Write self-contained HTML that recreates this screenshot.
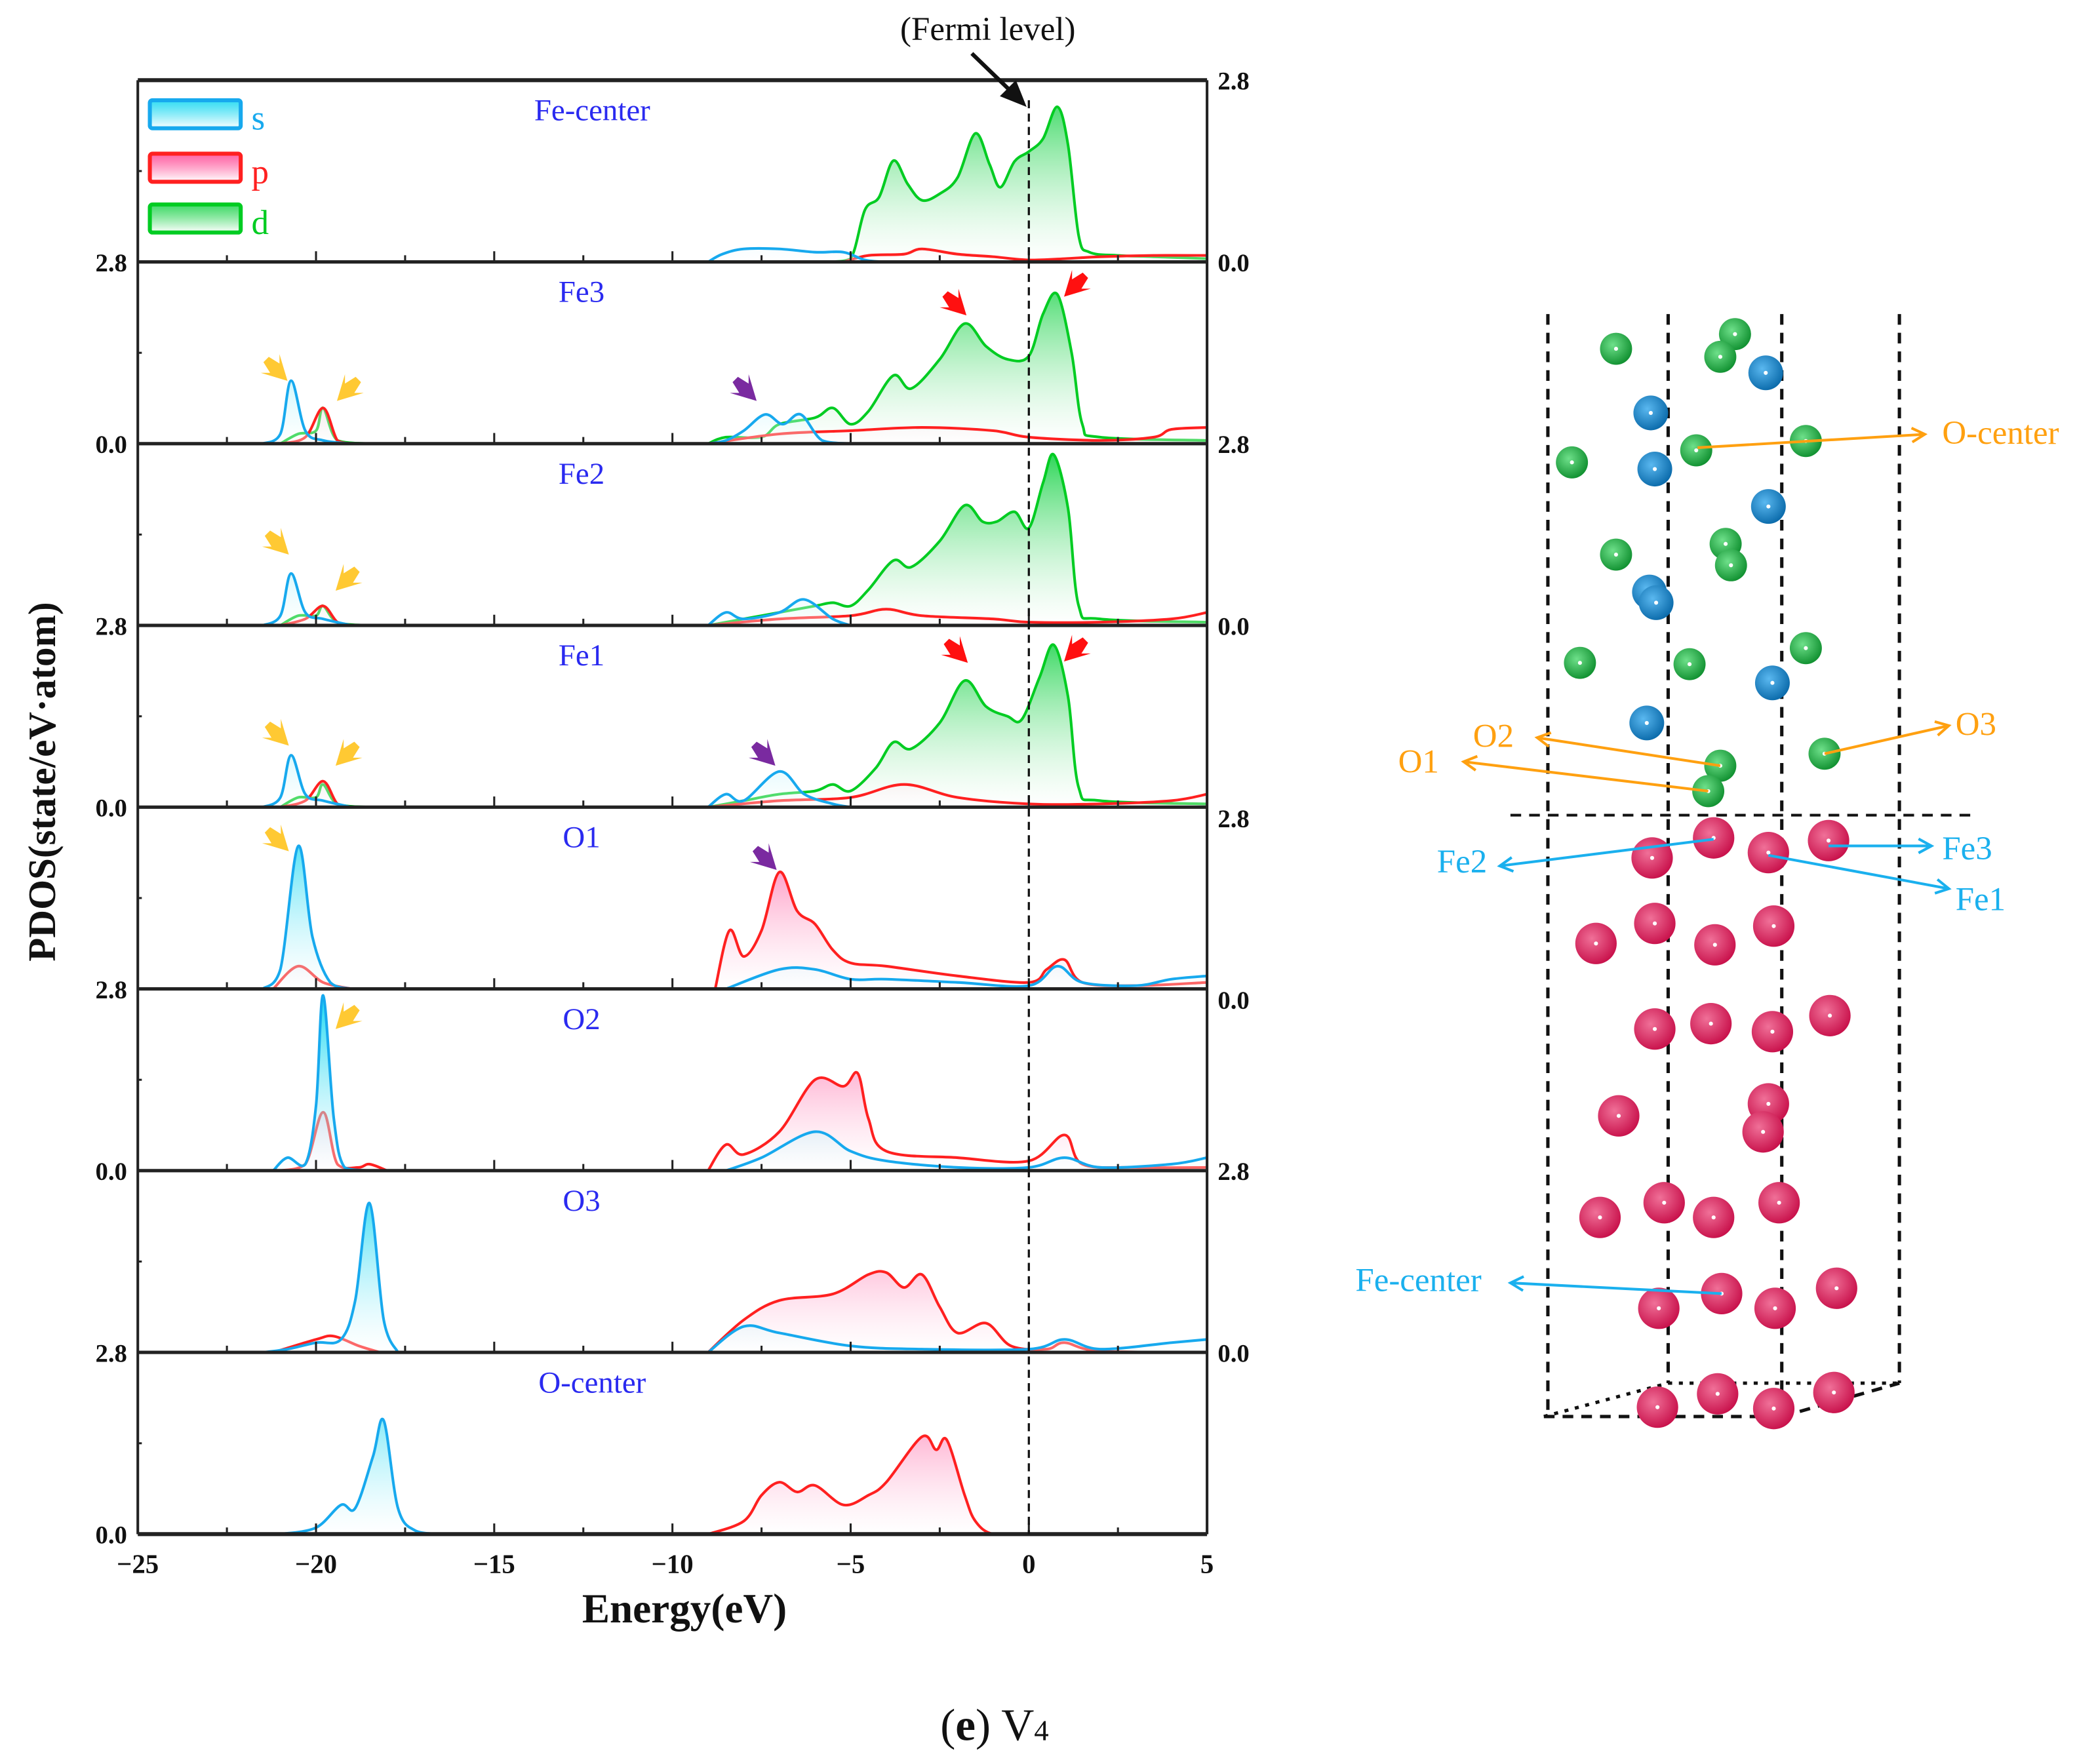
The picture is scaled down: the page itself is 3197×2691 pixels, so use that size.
<!DOCTYPE html>
<html><head><meta charset="utf-8">
<style>
html,body{margin:0;padding:0;background:#fff;}
svg{display:block;}
text{font-family:"Liberation Serif",serif;}
</style></head>
<body>
<svg id="fig" width="3197" height="2691" viewBox="0 0 1568 1320" xmlns="http://www.w3.org/2000/svg">
<defs id="defs"></defs>
<g id="chart"></g>
<g id="struct"></g>
</svg>
<script>
// ---- chart data: [energy eV, PDOS] pairs per panel / orbital ----
const xTicks = [-25,-20,-15,-10,-5,0,5];
const panelNames = ["Fe-center","Fe3","Fe2","Fe1","O1","O2","O3","O-center"];
const feCenter_s = [[-9,0],[-8.6,0.12],[-8,0.2],[-7,0.2],[-6,0.15],[-5.2,0.15],[-4.6,0.03],[-4,0]];
const feCenter_p = [[-5.2,0],[-4.5,0.1],[-3.5,0.12],[-3,0.2],[-2,0.12],[-1,0.08],[0,0.03],[1,0.05],[2,0.08],[3.5,0.1],[5,0.1]];
const feCenter_d = [[-5.6,0],[-5,0.05],[-4.6,0.8],[-4.2,1.0],[-3.8,1.56],[-3.4,1.2],[-3,0.95],[-2.5,1.05],[-2,1.3],[-1.5,1.98],[-1.1,1.5],[-0.8,1.15],[-0.4,1.55],[0,1.7],[0.4,1.9],[0.8,2.39],[1.1,1.8],[1.4,0.4],[1.7,0.15],[2.5,0.1],[3.5,0.08],[5,0.05]];
const fe3_s = [[-21.5,0],[-21,0.15],[-20.7,0.97],[-20.3,0.2],[-19.8,0.05],[-19,0],[-9,0],[-8.5,0.05],[-8,0.2],[-7.4,0.45],[-6.9,0.3],[-6.4,0.45],[-5.8,0.05],[-5,0]];
const fe3_p = [[-21,0],[-20.3,0.1],[-19.8,0.55],[-19.4,0.05],[-19,0],[-9,0],[-7,0.15],[-5,0.2],[-3,0.25],[-1,0.2],[0,0.1],[2,0.05],[3.5,0.1],[4,0.22],[5,0.25]];
const fe3_d = [[-21,0],[-20.5,0.15],[-20,0.2],[-19.8,0.55],[-19.4,0.05],[-18.5,0],[-9,0],[-8.5,0.1],[-7.5,0.1],[-7,0.3],[-6,0.4],[-5.5,0.55],[-5,0.3],[-4.5,0.5],[-3.8,1.05],[-3.3,0.85],[-2.5,1.3],[-1.8,1.85],[-1.2,1.5],[-0.6,1.3],[0,1.35],[0.4,2.0],[0.8,2.3],[1.2,1.4],[1.5,0.3],[2,0.1],[5,0.05]];
const fe2_s = [[-21.5,0],[-21,0.15],[-20.7,0.8],[-20.3,0.2],[-19.8,0.1],[-19,0],[-9,0],[-8.5,0.2],[-8,0.1],[-7,0.2],[-6.3,0.4],[-5.5,0.1],[-5,0]];
const fe2_p = [[-21,0],[-20.3,0.1],[-19.8,0.3],[-19.4,0.05],[-19,0],[-9,0],[-7,0.1],[-5,0.15],[-4,0.25],[-3,0.15],[-1,0.1],[0,0.05],[2,0.05],[4,0.1],[5,0.2]];
const fe2_d = [[-21,0],[-20.5,0.15],[-20,0.15],[-19.8,0.3],[-19.4,0.05],[-18.5,0],[-9,0],[-8,0.1],[-7,0.2],[-6,0.3],[-5.5,0.35],[-5,0.3],[-4.5,0.55],[-3.8,1.0],[-3.3,0.9],[-2.5,1.3],[-1.8,1.85],[-1.3,1.6],[-0.9,1.6],[-0.4,1.75],[0,1.5],[0.4,2.2],[0.7,2.63],[1.1,1.8],[1.4,0.3],[2,0.1],[5,0.05]];
const fe1_s = [[-21.5,0],[-21,0.15],[-20.7,0.8],[-20.3,0.2],[-19.8,0.1],[-19,0],[-9,0],[-8.5,0.2],[-8,0.1],[-7,0.55],[-6.3,0.2],[-5.5,0.05],[-5,0]];
const fe1_p = [[-21,0],[-20.3,0.1],[-19.8,0.4],[-19.4,0.05],[-19,0],[-9,0],[-7,0.1],[-5,0.15],[-3.5,0.35],[-2,0.15],[0,0.05],[2,0.05],[4,0.1],[5,0.2]];
const fe1_d = [[-21,0],[-20.5,0.15],[-20,0.15],[-19.8,0.35],[-19.4,0.05],[-18.5,0],[-9,0],[-8,0.1],[-7,0.2],[-6,0.25],[-5.5,0.35],[-5,0.25],[-4.3,0.6],[-3.8,1.0],[-3.3,0.9],[-2.5,1.3],[-1.8,1.95],[-1.2,1.55],[-0.6,1.4],[-0.2,1.35],[0.3,2.0],[0.7,2.5],[1.1,1.7],[1.4,0.3],[2,0.1],[5,0.05]];
const o1_s = [[-21.5,0],[-21,0.3],[-20.5,2.2],[-20.1,0.8],[-19.6,0.1],[-19,0],[-8.5,0],[-7,0.3],[-6,0.3],[-5,0.15],[-4,0.15],[-2,0.1],[0,0.05],[0.8,0.35],[1.5,0.1],[3,0.05],[4,0.15],[5,0.2]];
const o1_p = [[-21.2,0],[-20.5,0.35],[-19.8,0.1],[-19,0],[-8.8,0],[-8.4,0.9],[-8,0.5],[-7.5,0.9],[-7,1.8],[-6.5,1.2],[-6,1.0],[-5.5,0.6],[-5,0.4],[-4,0.35],[-2,0.2],[0,0.1],[0.5,0.3],[1,0.45],[1.5,0.1],[3,0.05],[5,0.1]];
const o2_s = [[-21.2,0],[-20.8,0.2],[-20.3,0.1],[-20,1.0],[-19.8,2.7],[-19.5,0.8],[-19.2,0.05],[-18.5,0],[-8.5,0],[-7.5,0.2],[-6,0.6],[-5,0.3],[-4,0.15],[-2,0.05],[0,0.05],[1,0.2],[2,0.05],[4,0.1],[5,0.2]];
const o2_p = [[-21,0],[-20.3,0.1],[-19.8,0.9],[-19.4,0.1],[-18.8,0.05],[-18.5,0.1],[-18,0],[-9,0],[-8.5,0.4],[-8,0.25],[-7,0.6],[-6,1.4],[-5.2,1.3],[-4.8,1.5],[-4.5,0.8],[-4,0.3],[-2,0.2],[0,0.15],[1,0.55],[1.5,0.1],[3,0.05],[5,0.05]];
const o3_s = [[-21.5,0],[-20.8,0.05],[-20,0.15],[-19.3,0.2],[-18.9,0.8],[-18.5,2.3],[-18.1,0.5],[-17.7,0],[-9,0],[-8,0.4],[-7,0.3],[-5,0.1],[-3,0.05],[0,0.05],[1,0.2],[2,0.05],[4,0.15],[5,0.2]];
const o3_p = [[-21.2,0],[-20,0.2],[-19.5,0.25],[-18.8,0.1],[-18.2,0],[-9,0],[-8,0.5],[-7,0.8],[-5.5,0.9],[-4.5,1.2],[-4,1.23],[-3.5,1.0],[-3,1.2],[-2.5,0.7],[-2,0.3],[-1.2,0.45],[-0.5,0.1],[0.5,0.05],[1,0.15],[2,0.02],[5,0]];
const oc_s = [[-21,0],[-20,0.1],[-19.3,0.45],[-18.9,0.4],[-18.4,1.2],[-18.1,1.75],[-17.7,0.4],[-17.2,0.05],[-16.5,0]];
const oc_p = [[-9,0],[-8,0.2],[-7.5,0.6],[-7,0.8],[-6.5,0.65],[-6,0.75],[-5.2,0.45],[-4.5,0.6],[-4,0.8],[-3,1.5],[-2.6,1.3],[-2.3,1.45],[-1.8,0.6],[-1.5,0.2],[-1,0],[0,0],[5,0]];
const panelSeries = [
  [["d",feCenter_d],["p",feCenter_p],["s",feCenter_s]],
  [["d",fe3_d],["p",fe3_p],["s",fe3_s]],
  [["d",fe2_d],["p",fe2_p],["s",fe2_s]],
  [["d",fe1_d],["p",fe1_p],["s",fe1_s]],
  [["p",o1_p],["s",o1_s]],
  [["p",o2_p],["s",o2_s]],
  [["p",o3_p],["s",o3_s]],
  [["p",oc_p],["s",oc_s]]
];

const NS="http://www.w3.org/2000/svg";
const X0=103,X1=903,Y0=60,PH=136,NP=8,YMAX=2.8;
const xs=e=>X0+(e+25)/30*(X1-X0);
const ys=(i,v)=>Y0+PH*(i+1)-v/YMAX*PH;
const lineCol={s:"#17a9ee",p:"#ff2020",d:"#00cc22"};
const fillCol={s:"#00d4f0",p:"#ff3a8c",d:"#10d040"};
const chart=document.getElementById('chart');
const defs=document.getElementById('defs');
function mk(tag,attrs,parent){const el=document.createElementNS(NS,tag);for(const k in attrs)el.setAttribute(k,attrs[k]);(parent||chart).appendChild(el);return el;}
function smooth(pts,base){let d="M"+pts[0][0]+","+pts[0][1];for(let i=0;i<pts.length-1;i++){const p0=pts[Math.max(0,i-1)],p1=pts[i],p2=pts[i+1],p3=pts[Math.min(pts.length-1,i+2)];const c1x=p1[0]+(p2[0]-p0[0])/6,c2x=p2[0]-(p3[0]-p1[0])/6;const c1y=Math.min(base,p1[1]+(p2[1]-p0[1])/6),c2y=Math.min(base,p2[1]-(p3[1]-p1[1])/6);d+=" C"+c1x+","+c1y+" "+c2x+","+c2y+" "+p2[0]+","+p2[1];}return d;}
function segments(arr){const segs=[[arr[0]]];for(let k=1;k<arr.length;k++){if(arr[k][0]-arr[k-1][0]>2.5&&arr[k][1]===0&&arr[k-1][1]===0){segs.push([arr[k]]);}else segs[segs.length-1].push(arr[k]);}return segs.filter(s=>s.length>1);}

for(let i=0;i<NP;i++){for(const o of ["s","p","d"]){const g=mk('linearGradient',{id:'g'+o+i,gradientUnits:'userSpaceOnUse',x1:0,y1:Y0+PH*i+10,x2:0,y2:Y0+PH*(i+1)},defs);mk('stop',{offset:0,'stop-color':fillCol[o],'stop-opacity':0.85},g);mk('stop',{offset:1,'stop-color':'#fff','stop-opacity':0.3},g);}}

for(let i=0;i<NP;i++){
  const base=Y0+PH*(i+1);
  const gp=mk('g',{});
  
  
  for(const [o,arr] of panelSeries[i]){
    for(const seg of segments(arr)){
      const pts=seg.map(a=>[xs(a[0]),ys(i,a[1])]);
      const dl=smooth(pts,base);
      const f=mk('path',{d:dl+" L"+pts[pts.length-1][0]+","+base+" L"+pts[0][0]+","+base+" Z",fill:'url(#g'+o+i+')',stroke:'none'},gp);
      
      
      const l=mk('path',{d:dl,fill:'none',stroke:lineCol[o],'stroke-width':2},gp);
      
      
    }
  }
  const t=mk('text',{x:panelNames[i]==="Fe-center"||panelNames[i]==="O-center"?443:435,y:Y0+PH*i+30,'font-size':23,fill:'#2a2af0','text-anchor':'middle'});
  t.textContent=panelNames[i];
  
  
}
mk('line',{x1:X0,y1:Y0,x2:X0,y2:Y0+PH*NP,stroke:'#222','stroke-width':2});
mk('line',{x1:X1,y1:Y0,x2:X1,y2:Y0+PH*NP,stroke:'#222','stroke-width':2});
for(let i=0;i<=NP;i++){const y=Y0+PH*i;const ln=mk('line',{x1:X0,y1:y,x2:X1,y2:y,stroke:'#222','stroke-width':i==0||i==NP?3:2.5});
  
  
  if(i>0){for(let e=-25;e<=5;e+=2.5){const maj=e%5===0;mk('line',{x1:xs(e),y1:y,x2:xs(e),y2:y-(maj?8:5),stroke:'#222','stroke-width':1.5});}
    mk('line',{x1:X0,y1:y-PH/2,x2:X0+3,y2:y-PH/2,stroke:'#222','stroke-width':1.5});}
}
for(let i=1;i<=NP;i++){const t=mk('text',{x:X0-8,y:Y0+PH*i+7,'font-size':19,'font-weight':'bold','text-anchor':'end',fill:'#111'});t.textContent=(i%2===1)?"2.8":"0.0";}
const rightY=[[60,"2.8"],[196,"0.0"],[332,"2.8"],[468,"0.0"],[612,"2.8"],[748,"0.0"],[876,"2.8"],[1012,"0.0"]];
for(const [y,s] of rightY){const t=mk('text',{x:X1+8,y:y+7,'font-size':19,'font-weight':'bold',fill:'#111'});t.textContent=s;}
for(const e of xTicks){const t=mk('text',{x:xs(e),y:1177,'font-size':20,'font-weight':'bold','text-anchor':'middle',fill:'#111'});t.textContent=e<0?"\u2212"+(-e):String(e);}
const fl=mk('line',{x1:xs(0),y1:75,x2:xs(0),y2:1148,stroke:'#111','stroke-width':1.6,'stroke-dasharray':'6,4'});

let t=mk('text',{x:739,y:30,'font-size':25,'text-anchor':'middle',fill:'#111'});t.textContent="(Fermi level)";
mk('line',{x1:727,y1:40,x2:758,y2:70,stroke:'#111','stroke-width':3});
mk('polygon',{points:'768,80 748,72 760,60',fill:'#111'});
t=mk('text',{x:512,y:1214,'font-size':31,'font-weight':'bold','text-anchor':'middle',fill:'#111'});t.textContent="Energy(eV)";
t=mk('text',{x:0,y:0,'font-size':29,'font-weight':'bold','text-anchor':'middle',fill:'#111',transform:'translate(41,585) rotate(-90)'});t.textContent="PDOS(state/eV\u00b7atom)";
t=mk('text',{x:744,y:1302,'font-size':34,'text-anchor':'middle',fill:'#111'});t.innerHTML='(<tspan font-weight="bold">e</tspan>) V<tspan font-size="22">4</tspan>';
[["s",75],["p",115],["d",153]].forEach(([o,y])=>{
 const g=mk('linearGradient',{id:'lg'+o,x1:0,y1:0,x2:0,y2:1},defs);mk('stop',{offset:0,'stop-color':fillCol[o],'stop-opacity':0.8},g);mk('stop',{offset:1,'stop-color':'#fff'},g);
 const r=mk('rect',{x:112,y:y,width:68,height:21,rx:2,fill:'url(#lg'+o+')',stroke:lineCol[o],'stroke-width':3});
 
 const tt=mk('text',{x:188,y:y+22,'font-size':26,fill:lineCol[o]});tt.textContent=o;
});
const arrows=[[205,275,'#ffc933',1],[262,290,'#ffc933',-1],[556,290,'#7a2aa0',1],[713,226,'#ff1010',1],[806,212,'#ff1010',-1],
[206,405,'#ffc933',1],[261,432,'#ffc933',-1],[206,548,'#ffc933',1],[261,563,'#ffc933',-1],[570,563,'#7a2aa0',1],[714,486,'#ff1010',1],[806,485,'#ff1010',-1],
[206,627,'#ffc933',1],[571,641,'#7a2aa0',1],[261,760,'#ffc933',-1]];
for(const [x,y,c,dir] of arrows){const a=mk('polygon',{points:'-4,-8 4,-3 4,-10 10,10 -10,4 -3,4 -8,-4',fill:c,transform:'translate('+x+','+y+') scale('+dir+',1)'});}

const S=document.getElementById('struct');
function sk(tag,attrs){return mk(tag,attrs,S);}
[['rg','#f07098','#c8104a'],['gg','#6ee08a','#109030'],['bg','#5ab8f0','#0a6aaa']].forEach(([id,a,b])=>{const g=mk('radialGradient',{id:id,cx:0.4,cy:0.38,r:0.65},defs);mk('stop',{offset:0,'stop-color':a},g);mk('stop',{offset:1,'stop-color':b},g);});
const dash={stroke:'#111','stroke-width':2.5,'stroke-dasharray':'8,6',fill:'none'};
[[1158,235,1060],[1248,235,1035],[1333,235,1060],[1421,235,1035]].forEach(([x,a,b])=>{const l=sk('line',Object.assign({x1:x,y1:a,x2:x,y2:b},dash));});
sk('line',Object.assign({x1:1130,y1:610,x2:1475,y2:610},dash,{'stroke-width':2}));
sk('line',Object.assign({x1:1155,y1:1060,x2:1333,y2:1060},dash));
sk('line',Object.assign({x1:1333,y1:1060,x2:1421,y2:1035},dash));
sk('line',Object.assign({x1:1155,y1:1060,x2:1248,y2:1035},dash,{'stroke-dasharray':'3,5'}));
sk('line',Object.assign({x1:1248,y1:1035,x2:1421,y2:1035},dash,{'stroke-dasharray':'3,5'}));
const greens=[[1209,261],[1298,250],[1287,267],[1176,346],[1269,337],[1351,330],[1209,415],[1291,407],[1295,423],[1182,496],[1264,497],[1351,485],[1287,573],[1278,592],[1365,564]];
const blues=[[1321,279],[1235,309],[1238,351],[1323,379],[1234,443],[1239,451],[1326,511],[1232,541]];
const pinks=[[1282,627],[1236,642],[1323,638],[1368,629],[1194,706],[1238,691],[1283,707],[1327,693],[1238,770],[1280,766],[1326,772],[1369,760],[1211,835],[1323,826],[1319,847],[1197,911],[1245,900],[1282,911],[1331,900],[1241,979],[1288,968],[1328,979],[1374,964],[1240,1053],[1285,1043],[1327,1054],[1372,1042]];
function atoms(list,g,r,name){for(const [x,y] of list){const c=sk('circle',{cx:x,cy:y,r:r,fill:'url(#'+g+')'});sk('circle',{cx:x,cy:y,r:1.5,fill:'#fff'});}}
atoms(greens,'gg',12,'oxygen-atom');atoms(blues,'bg',13,'blue-atom');atoms(pinks,'rg',15.5,'iron-atom');
function lab(txt,x,y,col,anchor,ax1,ay1,ax2,ay2){
 const l=sk('line',{x1:ax1,y1:ay1,x2:ax2,y2:ay2,stroke:col,'stroke-width':2});
 const ang=Math.atan2(ay2-ay1,ax2-ax1);const h=11;
 sk('polyline',{points:(ax2-h*Math.cos(ang-0.5))+','+(ay2-h*Math.sin(ang-0.5))+' '+ax2+','+ay2+' '+(ax2-h*Math.cos(ang+0.5))+','+(ay2-h*Math.sin(ang+0.5)),fill:'none',stroke:col,'stroke-width':2});
 const tt=sk('text',{x:x,y:y,'font-size':25,fill:col,'text-anchor':anchor});tt.textContent=txt;
}
const OR='#ffa010',BL='#1ab0ee';
lab('O-center',1453,332,OR,'start',1270,335,1440,325);
lab('O2',1102,559,OR,'start',1287,573,1150,552);
lab('O1',1046,578,OR,'start',1278,592,1095,570);
lab('O3',1463,550,OR,'start',1365,564,1458,543);
lab('Fe3',1453,643,BL,'start',1368,633,1445,633);
lab('Fe1',1463,681,BL,'start',1323,640,1458,665);
lab('Fe2',1075,653,BL,'start',1282,628,1122,648);
lab('Fe-center',1014,966,BL,'start',1288,968,1130,960);
</script>
</body></html>
